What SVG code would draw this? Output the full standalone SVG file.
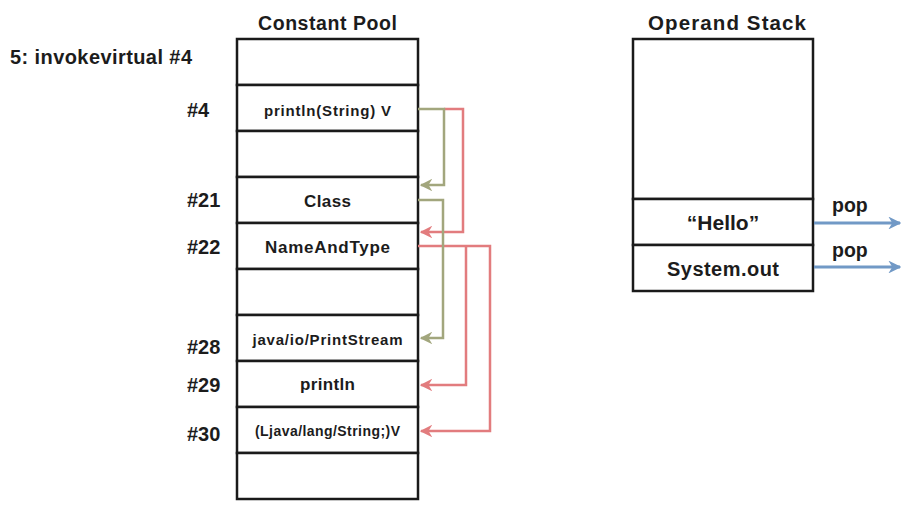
<svg xmlns="http://www.w3.org/2000/svg" width="917" height="516" viewBox="0 0 917 516">
<style>
text{font-family:"Liberation Sans",Arial,sans-serif;font-weight:bold;fill:#1c1c1c}
.cell{fill:#fff;stroke:#1a1a1a;stroke-width:2.5}
.c{text-anchor:middle}
.ol{fill:none;stroke:#a2a67d;stroke-width:2.5}
.rd{fill:none;stroke:#e27c7e;stroke-width:2.5}
.bl{fill:none;stroke:#7199c6;stroke-width:3}
</style>
<defs>
<marker id="ao" viewBox="0 0 10 10" refX="9" refY="5" markerWidth="5" markerHeight="5" orient="auto" markerUnits="strokeWidth"><path d="M0,0 L10,5 L0,10 L3,5 Z" fill="#a2a67d"/></marker>
<marker id="ar" viewBox="0 0 10 10" refX="9" refY="5" markerWidth="5" markerHeight="5" orient="auto" markerUnits="strokeWidth"><path d="M0,0 L10,5 L0,10 L3,5 Z" fill="#e27c7e"/></marker>
<marker id="ab" viewBox="0 0 10 10" refX="9" refY="5" markerWidth="4.3" markerHeight="4.3" orient="auto" markerUnits="strokeWidth"><path d="M0,0 L10,5 L0,10 L3,5 Z" fill="#7199c6"/></marker>
</defs>
<rect width="917" height="516" fill="#fff"/>

<g id="instruction"><text x="10" y="64" font-size="20" textLength="182">5: invokevirtual #4</text></g>
<g id="title-constant-pool"><text x="327.5" y="30" class="c" font-size="19.5" textLength="139">Constant Pool</text></g>
<g id="title-operand-stack"><text x="727" y="30" class="c" font-size="20.5" textLength="158">Operand Stack</text></g>

<g id="cp-0"><rect class="cell" x="237" y="39" width="181" height="46"/></g>
<g id="cp-4"><rect class="cell" x="237" y="85" width="181" height="46"/><text x="327.5" y="116" class="c" font-size="15" textLength="127">println(String) V</text></g>
<g id="cp-empty1"><rect class="cell" x="237" y="131" width="181" height="46"/></g>
<g id="cp-21"><rect class="cell" x="237" y="177" width="181" height="46"/><text x="327.5" y="207" class="c" font-size="17" textLength="47">Class</text></g>
<g id="cp-22"><rect class="cell" x="237" y="223" width="181" height="46"/><text x="327.5" y="253" class="c" font-size="17" textLength="125">NameAndType</text></g>
<g id="cp-empty2"><rect class="cell" x="237" y="269" width="181" height="46"/></g>
<g id="cp-28"><rect class="cell" x="237" y="315" width="181" height="46"/><text x="327.5" y="345" class="c" font-size="15" textLength="150">java/io/PrintStream</text></g>
<g id="cp-29"><rect class="cell" x="237" y="361" width="181" height="46"/><text x="327.5" y="390" class="c" font-size="17" textLength="55">println</text></g>
<g id="cp-30"><rect class="cell" x="237" y="407" width="181" height="46"/><text x="327.5" y="436" class="c" font-size="14" textLength="145">(Ljava/lang/String;)V</text></g>
<g id="cp-empty3"><rect class="cell" x="237" y="453" width="181" height="46"/></g>

<g id="idx-4"><text x="187" y="117" font-size="20">#4</text></g>
<g id="idx-21"><text x="187" y="207" font-size="20">#21</text></g>
<g id="idx-22"><text x="187" y="254" font-size="20">#22</text></g>
<g id="idx-28"><text x="187" y="354" font-size="20">#28</text></g>
<g id="idx-29"><text x="187" y="392" font-size="20">#29</text></g>
<g id="idx-30"><text x="187" y="441" font-size="20">#30</text></g>

<g id="stack-empty"><rect class="cell" x="633" y="39" width="180" height="160"/></g>
<g id="stack-hello"><rect class="cell" x="633" y="199" width="180" height="46"/><text x="723" y="230" class="c" font-size="21">“Hello”</text></g>
<g id="stack-systemout"><rect class="cell" x="633" y="245" width="180" height="46"/><text x="723" y="276" class="c" font-size="20" textLength="112">System.out</text></g>

<g id="pop-labels">
<text x="832" y="212" font-size="19.5">pop</text>
<text x="832" y="257" font-size="19.5">pop</text>
</g>

<g id="connectors">
<path class="rd" d="M444,109 H463 V232 H421" marker-end="url(#ar)"/>
<path class="rd" d="M418,246 H490 V431 H421" marker-end="url(#ar)"/>
<path class="rd" d="M466,246 V385 H421" marker-end="url(#ar)"/>
<path class="ol" d="M418,109 H444 V185 H421" marker-end="url(#ao)"/>
<path class="ol" d="M418,200 H443 V338 H421" marker-end="url(#ao)"/>
<path class="bl" d="M814,223 H900" marker-end="url(#ab)"/>
<path class="bl" d="M814,267 H900" marker-end="url(#ab)"/>
</g>
</svg>
